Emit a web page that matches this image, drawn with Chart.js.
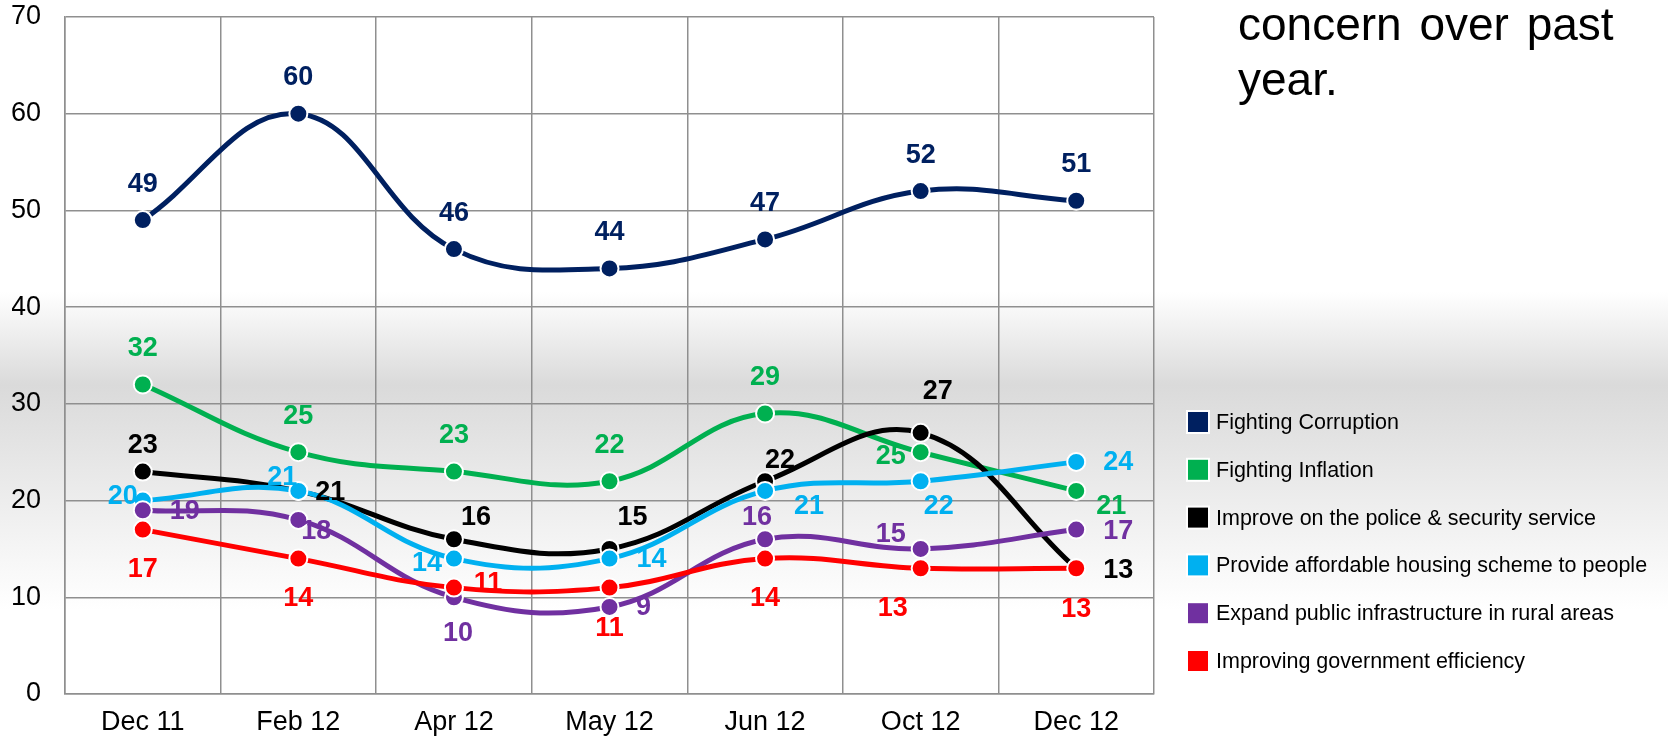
<!DOCTYPE html>
<html>
<head>
<meta charset="utf-8">
<title>Concern over past year</title>
<script src="https://cdn.jsdelivr.net/npm/chart.js@4.4.1/dist/chart.umd.min.js"></script>
<style>
  html, body { margin: 0; padding: 0; }
  body {
    width: 1668px;
    height: 737px;
    overflow: hidden;
    position: relative;
    font-family: "Liberation Sans", Arial, sans-serif;
    background: linear-gradient(to bottom, #ffffff 0px, #ffffff 292px, #dadada 385px, #ffffff 610px, #ffffff 737px);
  }
  #wrap { position: absolute; left: 0; top: 0; width: 1668px; height: 737px; }
  #note {
    position: absolute;
    left: 1238px;
    top: -3px;
    font-size: 46px;
    line-height: 55px;
    word-spacing: 5px;
    color: #000;
  }
</style>
</head>
<body>
<div id="wrap"><canvas id="chart"></canvas></div>
<div id="note">concern over past<br>year.</div>
<script>
var months = ["Dec 11", "Feb 12", "Apr 12", "May 12", "Jun 12", "Oct 12", "Dec 12"];

var corruption = [49, 60, 46, 44, 47, 52, 51];
var inflation = [32, 25, 23, 22, 29, 25, 21];
var police = [23, 21, 16, 15, 22, 27, 13];
var housing = [20, 21, 14, 14, 21, 22, 24];
var infrastructure = [19, 18, 10, 9, 16, 15, 17];
var efficiency = [17, 14, 11, 11, 14, 13, 13];

var seriesNames = [
  "Fighting Corruption",
  "Fighting Inflation",
  "Improve on the police & security service",
  "Provide affordable housing scheme to people",
  "Expand public infrastructure in rural areas",
  "Improving government efficiency"
];
var seriesColors = ["#002060", "#00b050", "#000000", "#00b0f0", "#7030a0", "#ff0000"];

// where each value label sits relative to its point (dx, dy)
var labelOffsets = [
  [[0, -36], [0, -36], [0, -36], [0, -36], [0, -36], [0, -36], [0, -36]],
  [[0, -36], [0, -36], [0, -36], [0, -36], [0, -36], [-30, 4], [35, 16]],
  [[0, -26], [32, 2], [22, -22], [23, -31], [15, -21], [17, -41], [42, 2]],
  [[-20, -4], [-16, -13], [-27, 5], [42, 1], [44, 16], [18, 25], [42, 1]],
  [[42, 1], [18, 12], [4, 36], [34, 1], [-8, -22], [-30, -14], [42, 2]],
  [[0, 40], [0, 40], [34, -4], [0, 41], [0, 40], [-28, 40], [0, 41]]
];

var fontFamily = "'Liberation Sans', Arial, sans-serif";
var gridColor = "#8f8f8f";

var allSeries = [corruption, inflation, police, housing, infrastructure, efficiency];
var datasets = [];
for (var i = 0; i < allSeries.length; i++) {
  datasets.push({
    label: seriesNames[i],
    data: allSeries[i],
    borderColor: seriesColors[i],
    backgroundColor: seriesColors[i],
    pointBackgroundColor: seriesColors[i],
    pointBorderColor: "#ffffff",
    pointBorderWidth: 2,
    pointRadius: 9,
    borderWidth: 5,
    tension: 0.4,
    fill: false,
    order: allSeries.length - 1 - i // later series on top, like the original
  });
}

var valueLabels = {
  id: "valueLabels",
  afterDatasetsDraw: function (chart) {
    var ctx = chart.ctx;
    ctx.save();
    ctx.font = "bold 27px " + fontFamily;
    ctx.textAlign = "center";
    ctx.textBaseline = "middle";
    chart.data.datasets.forEach(function (ds, i) {
      var meta = chart.getDatasetMeta(i);
      meta.data.forEach(function (pt, j) {
        var off = labelOffsets[i][j];
        ctx.fillStyle = ds.borderColor;
        ctx.fillText(ds.data[j], pt.x + off[0], pt.y + off[1]);
      });
    });
    ctx.restore();
  }
};

// legend on the right, drawn by hand so it sits where the original had it
var sideLegend = {
  id: "sideLegend",
  afterDraw: function (chart) {
    var ctx = chart.ctx;
    var boxX = 1188, textX = 1216, firstY = 422, step = 47.8, box = 20;
    ctx.save();
    ctx.font = "21.5px " + fontFamily;
    ctx.textAlign = "left";
    ctx.textBaseline = "middle";
    chart.data.datasets.forEach(function (ds, i) {
      var cy = firstY + i * step;
      ctx.fillStyle = "#ffffff";
      ctx.fillRect(boxX - 2, cy - box / 2 - 2, box + 4, box + 4);
      ctx.fillStyle = ds.borderColor;
      ctx.fillRect(boxX, cy - box / 2, box, box);
      ctx.fillStyle = "#000000";
      ctx.fillText(ds.label, textX, cy + 1);
    });
    ctx.restore();
  }
};

var chart1 = new Chart(document.getElementById("chart"), {
  type: "line",
  data: {
    labels: months,
    datasets: datasets
  },
  options: {
    responsive: true,
    maintainAspectRatio: false,
    animation: false,
    layout: {
      padding: { left: 12, top: 17, right: 514, bottom: 0 }
    },
    plugins: {
      legend: { display: false },
      tooltip: { enabled: false }
    },
    scales: {
      x: {
        offset: true,
        grid: { offset: true, color: gridColor, lineWidth: 1.5, drawTicks: false },
        border: { color: gridColor, width: 1.5 },
        ticks: { color: "#000", padding: 12, font: { size: 27, family: fontFamily } },
        afterFit: function (scale) {
          scale.height = 43;
          scale.paddingLeft = 0;
          scale.paddingRight = 0;
        }
      },
      y: {
        min: 0,
        max: 70,
        ticks: { stepSize: 10, color: "#000", padding: 24, font: { size: 27, family: fontFamily } },
        grid: { color: gridColor, lineWidth: 1.5, drawTicks: false },
        border: { color: gridColor, width: 1.5 },
        afterFit: function (scale) {
          scale.width = 53;
          scale.paddingTop = 0;
          scale.paddingBottom = 0;
        }
      }
    }
  },
  plugins: [valueLabels, sideLegend]
});
</script>
</body>
</html>
